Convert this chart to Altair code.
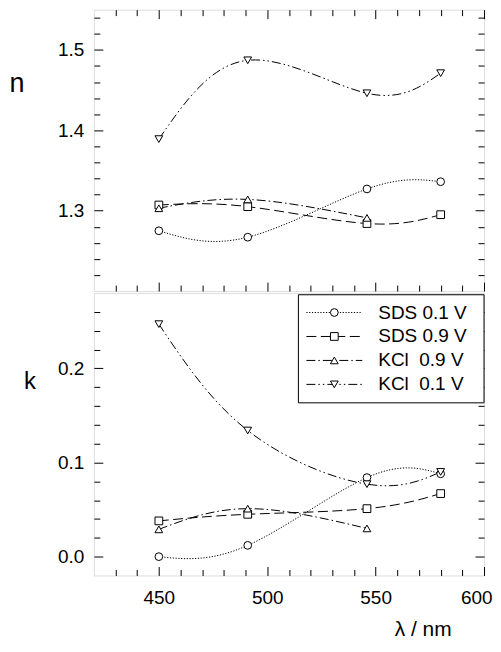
import altair as alt
import pandas as pd

# ---------------- data ----------------
wavelength = [450, 491, 546, 580]
series_names = ["SDS 0.1 V", "SDS 0.9 V", "KCl 0.9 V", "KCl 0.1 V"]
legend_labels = ["SDS 0.1 V", "SDS 0.9 V", "KCl\u00a0\u00a00.9 V", "KCl\u00a0\u00a00.1 V"]

n_sds01 = [1.275, 1.267, 1.327, 1.336]
n_sds09 = [1.307, 1.305, 1.284, 1.295]
n_kcl09 = [1.303, 1.314, 1.291]
n_kcl01 = [1.389, 1.487, 1.446, 1.471]

k_sds01 = [0.000, 0.012, 0.084, 0.088]
k_sds09 = [0.038, 0.045, 0.051, 0.067]
k_kcl09 = [0.029, 0.051, 0.030]
k_kcl01 = [0.247, 0.134, 0.077, 0.090]

x_major = [450, 500, 550, 600]
x_minor = [430, 440, 460, 470, 480, 490, 510, 520, 530, 540, 560, 570, 580, 590]
n_major = [1.3, 1.4, 1.5]
n_minor = [1.22, 1.24, 1.26, 1.28, 1.32, 1.34, 1.36, 1.38, 1.42, 1.44, 1.46, 1.48, 1.52, 1.54]
k_major = [0.0, 0.1, 0.2]
k_minor = [0.02, 0.04, 0.06, 0.08, 0.12, 0.14, 0.16, 0.18, 0.22, 0.24, 0.26]

dash_styles = [[1.2, 1.6], [10, 4.5], [9, 3, 1.5, 3], [9, 3, 1.5, 3, 1.5, 3]]
shape_styles = ["circle", "square", "triangle-up", "triangle-down"]


def long_table(lists):
    rows = []
    for name, vals in zip(series_names, lists):
        for x, v in zip(wavelength, vals):
            rows.append({"x": x, "v": v, "series": name})
    return pd.DataFrame(rows)


n_df = long_table([n_sds01, n_sds09, n_kcl09, n_kcl01])
k_df = long_table([k_sds01, k_sds09, k_kcl09, k_kcl01])
legend_df = pd.DataFrame({"series": series_names, "label": legend_labels})

# ---------------- layout ----------------
W = 391
H_TOP = 282
H_BOT = 283
FONT = "Liberation Sans"

dash_scale = alt.Scale(domain=series_names, range=dash_styles)
shape_scale = alt.Scale(domain=series_names, range=shape_styles)
x_scale = alt.Scale(domain=[420, 600], nice=False, zero=False)

x_test = "datum.value % 50 == 0"
y_test = "abs(datum.value*10 - round(datum.value*10)) < 0.001"
tick_x = {"condition": {"test": x_test, "value": 9}, "value": 6}
tick_y = {"condition": {"test": y_test, "value": 9}, "value": 6}
x_all = sorted(x_major + x_minor)


def inward(orient, offset, values, tick):
    return alt.Axis(orient=orient, offset=offset, values=values, tickSize=tick,
                    labels=False, domain=False, grid=False, title=None,
                    tickColor="black", tickWidth=1)


def panel(df, domain, major, minor, H, is_bottom):
    ys = alt.Scale(domain=domain, nice=False, zero=False)
    y_all = sorted(major + minor)
    y_lab = alt.Axis(orient="left", values=major, format=".1f", ticks=False,
                     domain=False, grid=False, labelPadding=10, labelFontSize=19,
                     labelColor="black", labelFont=FONT, labelFlush=False,
                     labelOverlap=False, title=None)
    if is_bottom:
        x_first = alt.Axis(orient="bottom", values=x_major, format="d", ticks=False,
                           domain=False, grid=False, labelPadding=13, labelFontSize=19,
                           labelColor="black", labelFont=FONT, labelFlush=1,
                           labelFlushOffset=8, labelOverlap=False, title=None)
    else:
        x_first = inward("bottom", -H, x_all, tick_x)

    line = alt.Chart(df).mark_line(interpolate="natural", color="black", strokeWidth=1).encode(
        x=alt.X("x:Q", scale=x_scale, axis=x_first),
        y=alt.Y("v:Q", scale=ys, axis=y_lab),
        strokeDash=alt.StrokeDash("series:N", scale=dash_scale, legend=None),
    )
    pts = alt.Chart(df).mark_point(filled=True, fill="white", stroke="black",
                                   strokeWidth=1, size=60, opacity=1).encode(
        x=alt.X("x:Q", scale=x_scale, axis=inward("top", -H, x_all, tick_x)),
        y=alt.Y("v:Q", scale=ys, axis=inward("right", -W, y_all, tick_y)),
        shape=alt.Shape("series:N", scale=shape_scale, legend=None),
    )
    dummy = alt.Chart(df).mark_point(opacity=0).encode(
        x=alt.X("x:Q", scale=x_scale, axis=None),
        y=alt.Y("v:Q", scale=ys, axis=inward("left", -W, y_all, tick_y)),
    )
    return [line, pts, dummy]


def text_mark(txt, x, y, size, align="center"):
    return alt.Chart(pd.DataFrame({"t": [txt]})).mark_text(
        fontSize=size, align=align, baseline="alphabetic", color="black", font=FONT
    ).encode(x=alt.value(x), y=alt.value(y), text="t:N")


top_layers = panel(n_df, [1.2, 1.55], n_major, n_minor, H_TOP, False)
top_layers.append(text_mark("n", -77, 83, 27))
top = alt.layer(*top_layers).resolve_axis(x="independent", y="independent").properties(
    width=W, height=H_TOP)

bot_layers = panel(k_df, [-0.02, 0.28], k_major, k_minor, H_BOT, True)
bot_layers.append(text_mark("k", -64, 96, 24))
bot_layers.append(text_mark("λ / nm", 330, 344, 21))

# legend box and entries
legend_y = [19.5, 43.5, 67.5, 91.5]
box = alt.Chart(pd.DataFrame({"b": [0]})).mark_rect(fill="white", stroke="black", strokeWidth=1).encode(
    x=alt.value(205), x2=alt.value(391), y=alt.value(1.7), y2=alt.value(110))
bot_layers.append(box)
for name, yv in zip(series_names, legend_y):
    sub = alt.Chart(legend_df).transform_filter(alt.datum.series == name)
    bot_layers.append(sub.mark_rule(color="black", strokeWidth=1).encode(
        x=alt.value(213), x2=alt.value(269), y=alt.value(yv),
        strokeDash=alt.StrokeDash("series:N", scale=dash_scale, legend=None)))
    bot_layers.append(sub.mark_point(filled=True, fill="white", stroke="black",
                                     strokeWidth=1, size=60, opacity=1).encode(
        x=alt.value(241), y=alt.value(yv),
        shape=alt.Shape("series:N", scale=shape_scale, legend=None)))
    bot_layers.append(sub.mark_text(align="left", baseline="middle", fontSize=19,
                                    color="black", font=FONT).encode(
        x=alt.value(285), y=alt.value(yv), text="label:N"))

bottom = alt.layer(*bot_layers).resolve_axis(x="independent", y="independent").properties(
    width=W, height=H_BOT)

chart = alt.vconcat(top, bottom, spacing=0, padding=0).configure_view(
    stroke="black", strokeWidth=1).configure(font=FONT)

chart.save("out.html", embed_options={"renderer": "svg", "actions": False})
